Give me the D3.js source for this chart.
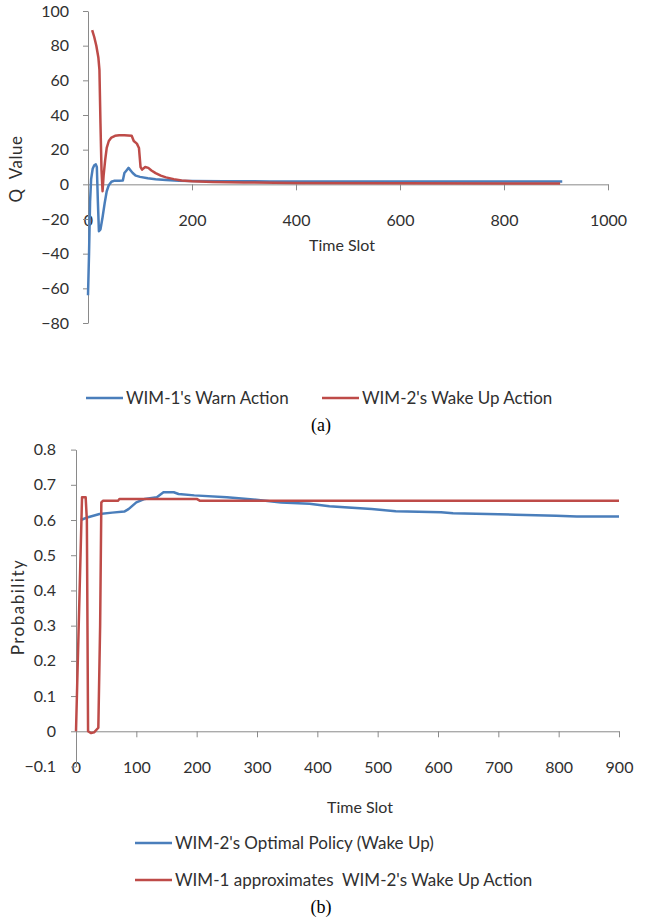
<!DOCTYPE html>
<html>
<head>
<meta charset="utf-8">
<script src="https://cdn.jsdelivr.net/npm/d3@7"></script>
<style>
  body { margin: 0; background: #fff; }
  svg text { font-family: Lato, "Open Sans", sans-serif; fill: #303030; }
  .axis path, .axis line { stroke: #8a8a8a; }
  .caption { font-family: "Liberation Serif", "Times New Roman", serif !important; fill: #000 !important; }
</style>
</head>
<body>
<svg id="chart" width="646" height="921"></svg>
<script>
// (a) Q values
let warnT = [0, 2, 4, 6, 9, 12, 15, 17, 19, 21, 24, 28, 32, 36, 40, 45, 50, 60, 67, 70, 74, 78, 82, 86, 92, 100, 115, 130, 150, 175, 200, 260, 350, 500, 700, 912];
let warnQ = [-64, -40, -10, 3, 9, 11, 11.5, 10, -10, -27, -26, -19, -11, -4, -0.5, 1.5, 2, 2, 2.2, 6.5, 8, 9.5, 8, 6.5, 5, 4.3, 3.5, 3, 2.5, 2, 1.9, 1.8, 1.7, 1.7, 1.6, 1.6];
let wakeT = [8, 12, 16, 20, 22, 24, 26, 28, 30, 33, 36, 40, 45, 52, 60, 70, 84, 88, 94, 98, 101, 104, 110, 116, 122, 130, 140, 150, 165, 180, 200, 240, 300, 400, 600, 908];
let wakeQ = [89, 85, 80, 73, 66, 35, 8, -4, 5, 14, 21, 25, 27, 28, 28.3, 28.3, 28, 25, 23.5, 21, 10, 8.5, 10, 9.5, 8, 6.5, 5, 4, 3, 2.2, 1.8, 1.4, 1.1, 0.8, 0.6, 0.5];

// (b) probabilities
let policyT = [8, 20, 39, 60, 80, 87, 100, 114, 134, 145, 162, 170, 196, 250, 284, 340, 387, 420, 490, 530, 605, 625, 728, 796, 830, 900];
let policyP = [0.600, 0.608, 0.617, 0.621, 0.624, 0.631, 0.650, 0.660, 0.665, 0.679, 0.679, 0.674, 0.670, 0.665, 0.660, 0.650, 0.646, 0.639, 0.631, 0.625, 0.622, 0.619, 0.615, 0.612, 0.610, 0.610];
let approxT = [0, 10, 16, 18, 20, 25, 30, 37, 40, 42, 45, 70, 72, 200, 205, 900];
let approxP = [0, 0.665, 0.665, 0.6, 0, -0.005, -0.003, 0.01, 0.3, 0.65, 0.655, 0.655, 0.66, 0.66, 0.655, 0.655];

let ticksAx = [0, 200, 400, 600, 800, 1000];
let ticksAy = [-80, -60, -40, -20, 0, 20, 40, 60, 80, 100];
let ticksBx = [0, 100, 200, 300, 400, 500, 600, 700, 800, 900];
let ticksBy = [-0.1, 0, 0.1, 0.2, 0.3, 0.4, 0.5, 0.6, 0.7, 0.8];

let blue = "#4a7ebb", red = "#be4b48";
let svg = d3.select("#chart");

let zip = function(ts, vs) { return ts.map(function(t, i) { return [t, vs[i]]; }); };

let drawPanel = function(p) {
    let g = svg.append("g");
    let x = d3.scaleLinear().domain(p.xDomain).range(p.xRange);
    let y = d3.scaleLinear().domain(p.yDomain).range(p.yRange);

    g.append("g")
        .attr("class", "axis")
        .attr("transform", "translate(0," + y(0) + ")")
        .call(d3.axisBottom(x).tickValues(p.xTicks).tickSize(6).tickSizeOuter(0).tickPadding(24).tickFormat(d3.format("")))
        .selectAll("text").style("font-size", "16px");

    g.append("g")
        .attr("class", "axis")
        .attr("transform", "translate(" + x(0) + ",0)")
        .call(d3.axisLeft(y).tickValues(p.yTicks).tickSize(5).tickSizeOuter(0).tickPadding(p.yPad).tickFormat(p.yFormat))
        .selectAll("text").style("font-size", "16px");

    g.selectAll(".axis .domain").attr("stroke", "#8a8a8a");

    let line = d3.line().x(function(d) { return x(d[0]); }).y(function(d) { return y(d[1]); });
    p.series.forEach(function(s) {
        g.append("path")
            .datum(s.data)
            .attr("fill", "none")
            .attr("stroke", s.color)
            .attr("stroke-width", 2.5)
            .attr("stroke-linejoin", "round")
            .attr("d", line);
    });

    g.append("text")
        .attr("x", p.xLabelPos[0]).attr("y", p.xLabelPos[1])
        .attr("text-anchor", "middle").attr("dy", "0.35em")
        .style("font-size", "16px")
        .text("Time Slot");

    g.append("text")
        .attr("transform", "translate(" + p.yLabelPos[0] + "," + p.yLabelPos[1] + ") rotate(-90)")
        .attr("text-anchor", "middle").attr("dy", "0.35em")
        .style("font-size", "17px")
        .style("letter-spacing", p.yLabelSpacing)
        .style("white-space", "pre")
        .text(p.yLabel);

    p.legend.forEach(function(l) {
        g.append("line")
            .attr("x1", l.x).attr("x2", l.x + 37)
            .attr("y1", l.y).attr("y2", l.y)
            .attr("stroke", l.color).attr("stroke-width", 2.5);
        g.append("text")
            .attr("x", l.x + 40).attr("y", l.y)
            .attr("dy", "0.35em")
            .style("font-size", "17px")
            .style("white-space", "pre")
            .text(l.label);
    });

    g.append("text")
        .attr("class", "caption")
        .attr("x", p.captionPos[0]).attr("y", p.captionPos[1])
        .attr("text-anchor", "middle").attr("dy", "0.35em")
        .style("font-size", "18px")
        .text(p.caption);
};

drawPanel({
    xDomain: [0, 1000], xRange: [88, 608],
    yDomain: [-80, 100], yRange: [323, 11],
    xTicks: ticksAx, yTicks: ticksAy, yPad: 14, yFormat: d3.format(""),
    series: [
        {data: zip(warnT, warnQ), color: blue},
        {data: zip(wakeT, wakeQ), color: red}
    ],
    xLabelPos: [342, 245], yLabelPos: [16, 169], yLabel: "Q  Value", yLabelSpacing: "0.5px",
    legend: [
        {x: 86, y: 398, color: blue, label: "WIM-1's Warn Action"},
        {x: 322, y: 398, color: red, label: "WIM-2's Wake Up Action"}
    ],
    captionPos: [321, 425], caption: "(a)"
});

drawPanel({
    xDomain: [0, 900], xRange: [76, 619],
    yDomain: [-0.1, 0.8], yRange: [766.5, 449.6],
    xTicks: ticksBx, yTicks: ticksBy, yPad: 15, yFormat: function(d) { return d3.format("")(+d.toFixed(1)); },
    series: [
        {data: zip(policyT, policyP), color: blue},
        {data: zip(approxT, approxP), color: red}
    ],
    xLabelPos: [360, 807], yLabelPos: [18, 607], yLabel: "Probability", yLabelSpacing: "1.5px",
    legend: [
        {x: 135, y: 843, color: blue, label: "WIM-2's Optimal Policy (Wake Up)"},
        {x: 135, y: 880, color: red, label: "WIM-1 approximates  WIM-2's Wake Up Action"}
    ],
    captionPos: [321, 907], caption: "(b)"
});
</script>
</body>
</html>
